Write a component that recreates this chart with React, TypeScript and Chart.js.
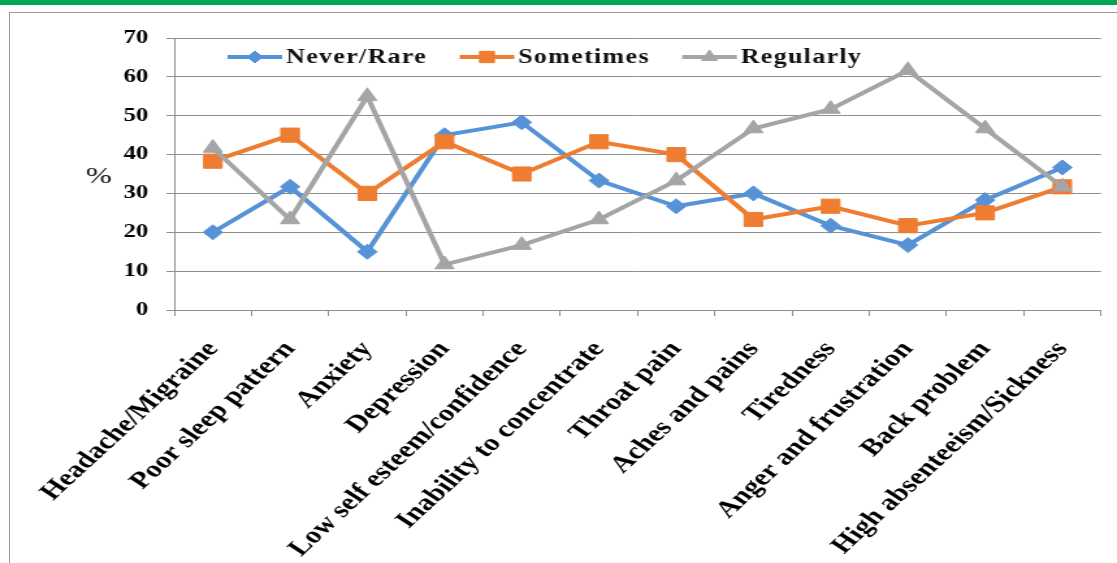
import React, { useEffect, useRef } from 'react';
import { Chart, registerables } from 'chart.js';
import { drawPoint } from 'chart.js/helpers';

Chart.register(...registerables);

// Symptoms reported, and the share (%) of respondents in each frequency group
const categories = [
  'Headache/Migraine',
  'Poor sleep pattern',
  'Anxiety',
  'Depression',
  'Low self esteem/confidence',
  'Inability to concentrate',
  'Throat pain',
  'Aches and pains',
  'Tiredness',
  'Anger and frustration',
  'Back problem',
  'High absenteeism/Sickness',
];

const neverRare = [20, 31.7, 15, 45, 48.3, 33.3, 26.7, 30, 21.7, 16.7, 28.3, 36.7];
const sometimes = [38.3, 45, 30, 43.3, 35, 43.3, 40, 23.3, 26.7, 21.7, 25, 31.7];
const regularly = [41.7, 23.3, 55, 11.7, 16.7, 23.3, 33.3, 46.7, 51.7, 61.7, 46.7, 31.7];

const seriesNames = ['Never/Rare', 'Sometimes', 'Regularly'];

const yMin = 0;
const yMax = 70;
const yStep = 10;
const yAxisTitle = '%';

// The chart is drawn on a narrower canvas and widened horizontally on the page
const PAGE_W = 1117;
const PAGE_H = 563;
const CANVAS_W = 859;
const CANVAS_H = 563;
const STRETCH = PAGE_W / CANVAS_W;

const FONT = '"Liberation Serif", "Times New Roman", serif';
const BLUE = '#5592D6';
const ORANGE = '#EE7D31';
const GRAY = '#A5A5A5';
const GRID = '#8E8E8E';

// Legend drawn inside the plot, each entry as a short line with its marker
const insideLegend = {
  id: 'insideLegend',
  afterDatasetsDraw(chart: any) {
    const { ctx, chartArea } = chart;
    const y = chartArea.top + 19;
    let x = chartArea.left + 41;
    ctx.save();
    ctx.font = `bold 20px ${FONT}`;
    (ctx as any).letterSpacing = '1px';
    ctx.textBaseline = 'middle';
    ctx.textAlign = 'left';
    chart.data.datasets.forEach((ds: any) => {
      ctx.strokeStyle = ds.borderColor;
      ctx.lineWidth = ds.borderWidth;
      ctx.beginPath();
      ctx.moveTo(x, y);
      ctx.lineTo(x + 42, y);
      ctx.stroke();
      ctx.fillStyle = ds.pointBackgroundColor;
      ctx.strokeStyle = ds.pointBorderColor;
      ctx.lineWidth = 1;
      drawPoint(
        ctx,
        { pointStyle: ds.pointStyle, radius: ds.legendRadius, rotation: 0, borderWidth: 1 } as any,
        x + 21,
        y
      );
      ctx.fillStyle = '#111';
      ctx.fillText(ds.label, x + 45, y + 1);
      x += 45 + ctx.measureText(ds.label).width + 25;
    });
    ctx.restore();
  },
};

// Unrotated "%" title left of the value axis
const axisTitle = {
  id: 'axisTitle',
  afterDraw(chart: any) {
    const { ctx, chartArea } = chart;
    ctx.save();
    ctx.font = `24px ${FONT}`;
    ctx.fillStyle = '#111';
    ctx.textAlign = 'center';
    ctx.textBaseline = 'middle';
    ctx.fillText(yAxisTitle, chartArea.left - 58, 177);
    ctx.restore();
  },
};

export default function App() {
  const canvasRef = useRef<HTMLCanvasElement | null>(null);

  useEffect(() => {
    if (!canvasRef.current) return;
    const makeSeries = (
      label: string,
      data: number[],
      color: string,
      pointStyle: string,
      radius: number,
      legendRadius: number,
      order: number
    ) => ({
      label,
      data,
      borderColor: color,
      backgroundColor: color,
      pointBackgroundColor: color,
      pointBorderColor: color,
      pointBorderWidth: 1,
      pointStyle,
      pointRadius: radius,
      borderWidth: 4,
      tension: 0,
      fill: false,
      order,
      legendRadius,
    });

    const chart = new Chart(canvasRef.current, {
      type: 'line',
      data: {
        labels: categories,
        datasets: [
          makeSeries(seriesNames[0], neverRare, BLUE, 'rectRot', 7.5, 6, 2),
          makeSeries(seriesNames[1], sometimes, ORANGE, 'rect', 10, 8, 1),
          makeSeries(seriesNames[2], regularly, GRAY, 'triangle', 8.5, 7, 0),
        ] as any,
      },
      options: {
        responsive: false,
        animation: false,
        devicePixelRatio: 1,
        layout: { padding: { top: 38, left: 0, right: 0, bottom: 0 } },
        plugins: {
          legend: { display: false },
          tooltip: { enabled: false },
        },
        scales: {
          x: {
            type: 'category',
            offset: true,
            grid: {
              offset: true,
              drawOnChartArea: false,
              drawTicks: true,
              tickLength: 6,
              color: GRID,
              lineWidth: 1,
            },
            border: { display: true, color: GRID, width: 1 },
            ticks: {
              autoSkip: false,
              minRotation: 50,
              maxRotation: 50,
              padding: 20,
              color: '#000',
              font: { family: FONT, size: 23.5, weight: 'bold' },
            },
            afterFit: (scale: any) => {
              scale.height = CANVAS_H - 310;
            },
          },
          y: {
            min: yMin,
            max: yMax,
            ticks: {
              stepSize: yStep,
              padding: 14,
              color: '#000',
              font: { family: FONT, size: 19, weight: 'bold' },
            },
            grid: {
              color: GRID,
              lineWidth: 1,
              drawTicks: true,
              tickLength: 6,
            },
            border: { display: true, color: GRID, width: 1 },
            afterFit: (scale: any) => {
              scale.width = 134;
            },
          },
        },
      } as any,
      plugins: [insideLegend, axisTitle],
    });
    return () => chart.destroy();
  }, []);

  return (
    <div
      style={{
        position: 'fixed',
        left: 0,
        top: 0,
        width: PAGE_W,
        height: PAGE_H,
        overflow: 'hidden',
        background: '#fff',
      }}
    >
      <div style={{ position: 'absolute', left: 0, top: 0, width: PAGE_W, height: 5, background: '#00A651' }} />
      <div
        style={{
          position: 'absolute',
          left: 9,
          top: 12,
          width: PAGE_W + 20,
          height: PAGE_H + 20,
          borderLeft: '1px solid #9a9a9a',
          borderTop: '1px solid #9a9a9a',
          boxSizing: 'border-box',
        }}
      />
      <div
        style={{
          position: 'absolute',
          left: 0,
          top: 0,
          width: CANVAS_W,
          height: CANVAS_H,
          transform: `scaleX(${STRETCH})`,
          transformOrigin: '0 0',
        }}
      >
        <canvas
          ref={canvasRef}
          width={CANVAS_W}
          height={CANVAS_H}
          style={{ width: CANVAS_W, height: CANVAS_H, display: 'block' }}
        />
      </div>
    </div>
  );
}
